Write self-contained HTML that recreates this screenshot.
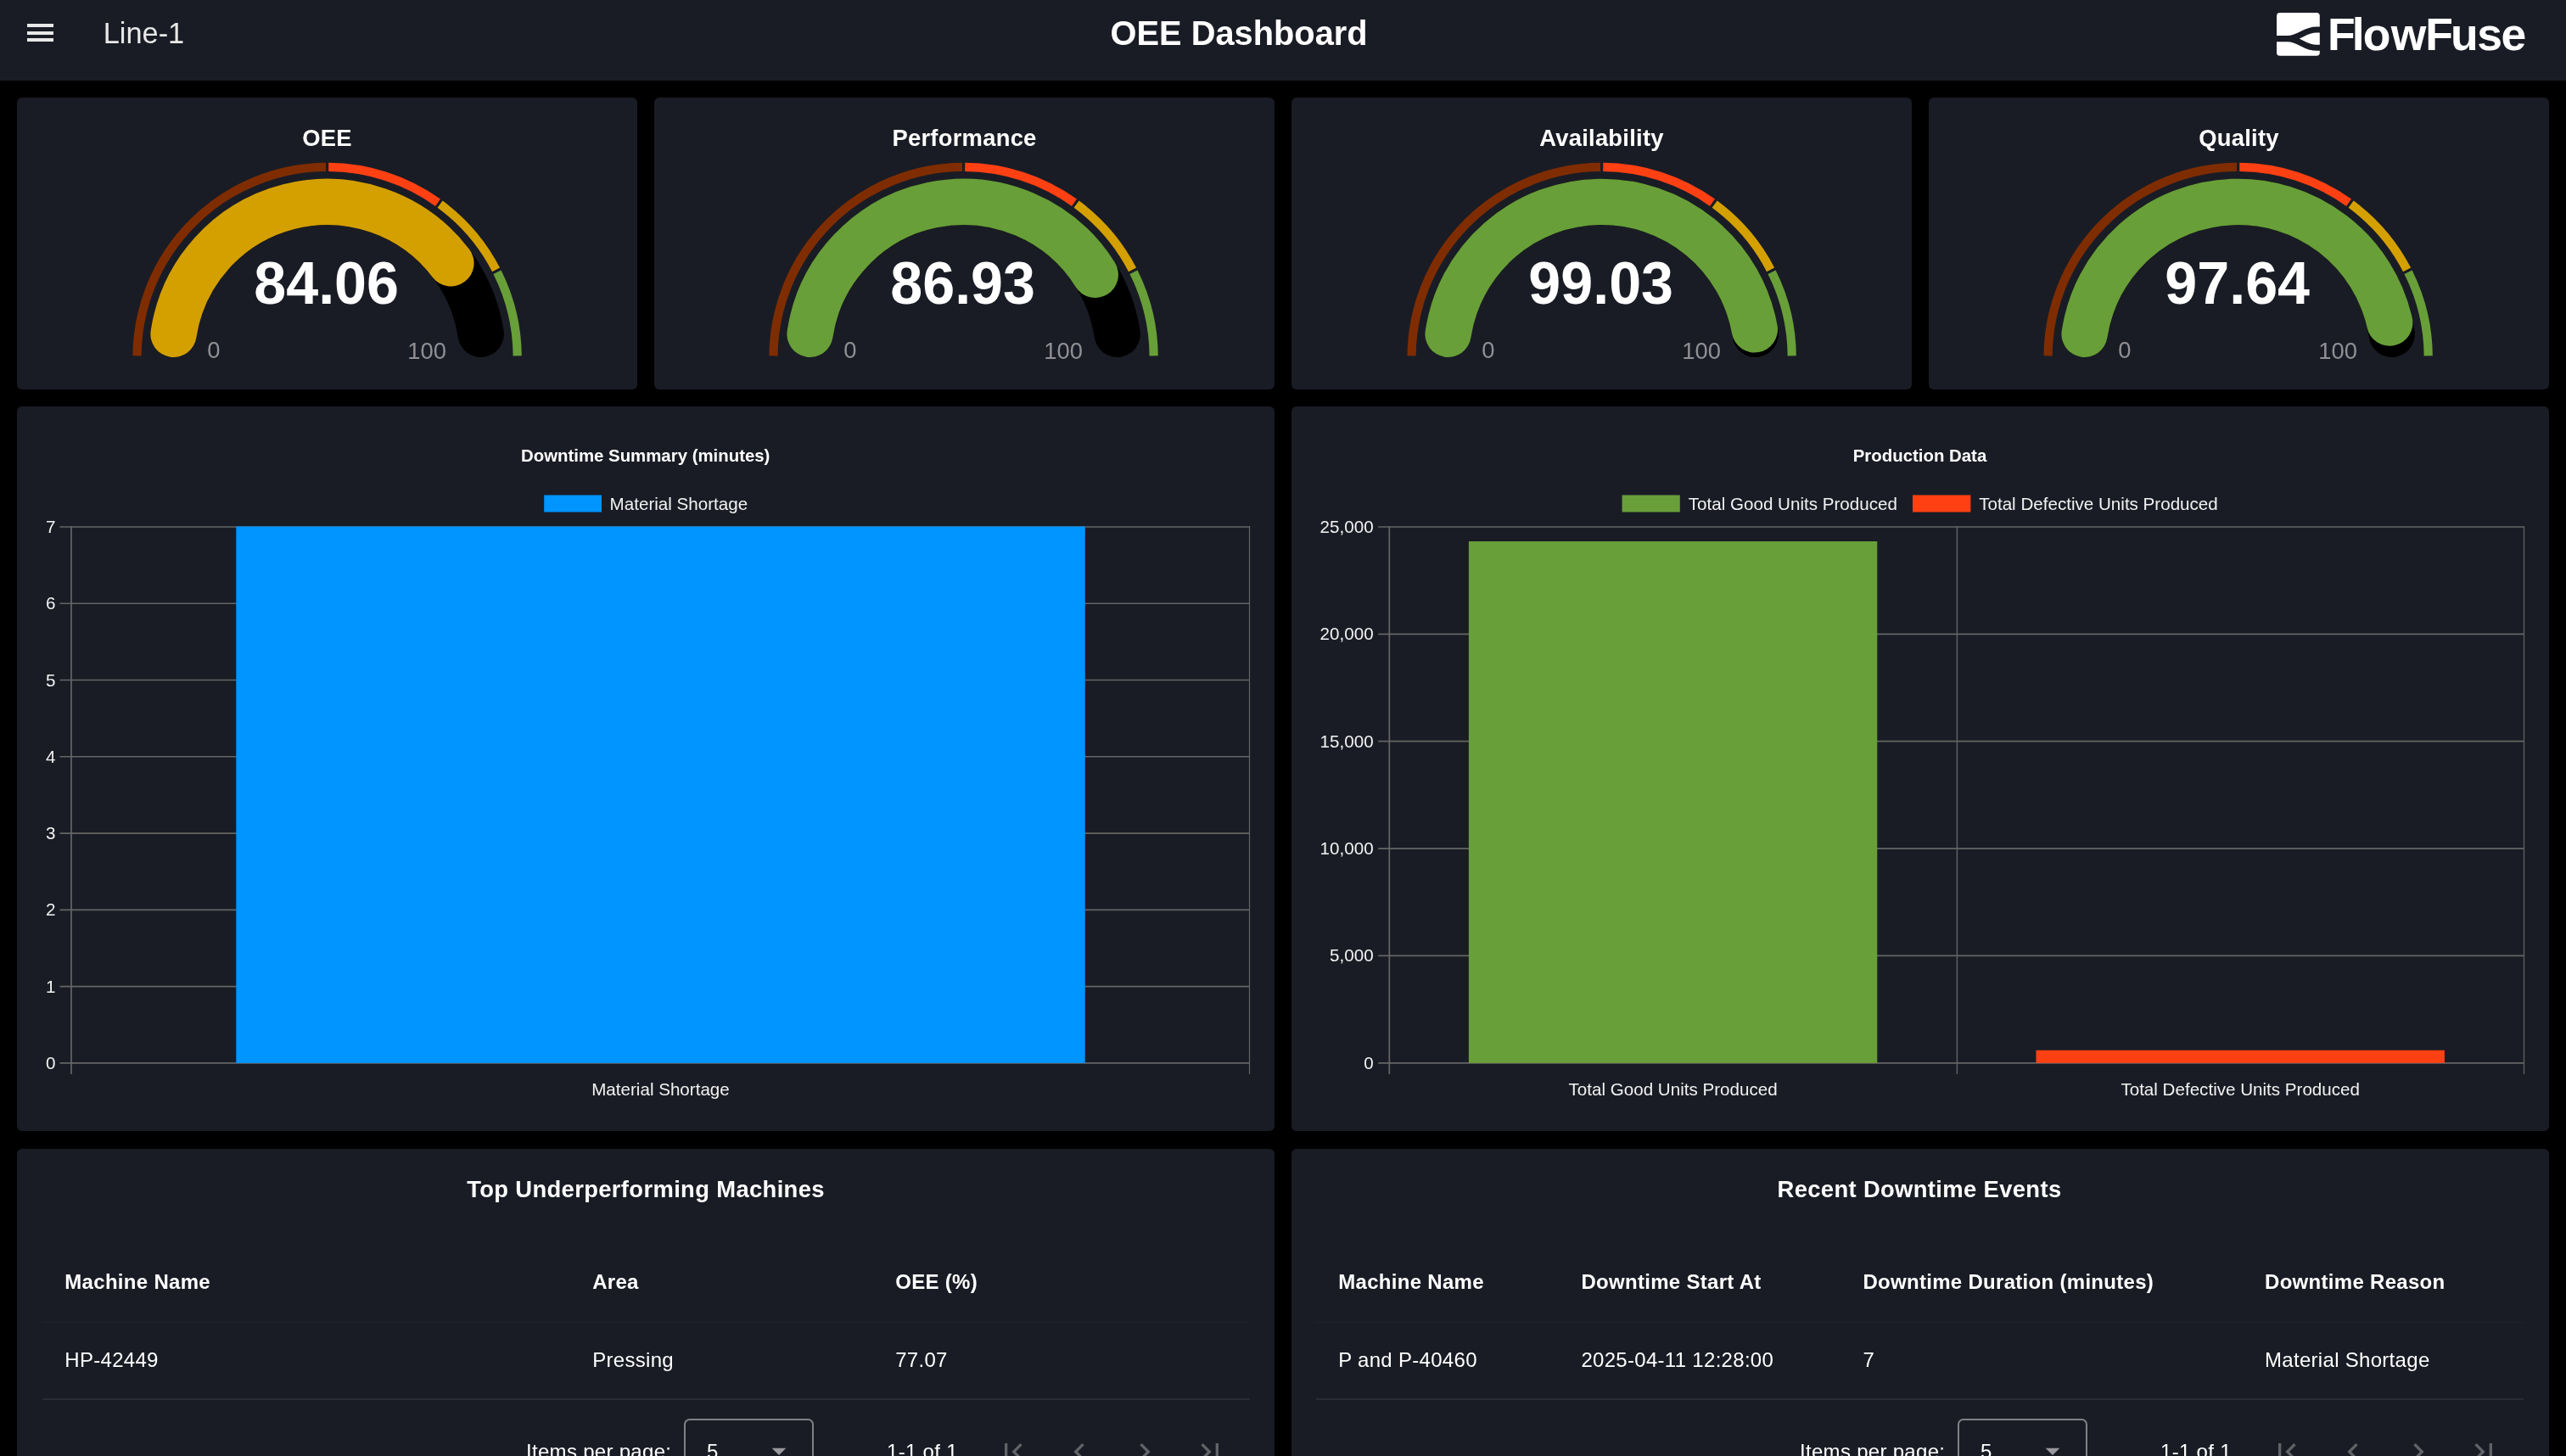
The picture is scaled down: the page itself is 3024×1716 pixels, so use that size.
<!DOCTYPE html>
<html lang="en"><head><meta charset="utf-8"><title>OEE Dashboard</title>
<style>
*{box-sizing:border-box}
html,body{margin:0;padding:0;background:#000;}
body{width:3024px;height:1716px;overflow:hidden;position:relative;font-family:"Liberation Sans", Arial, Helvetica, sans-serif;color:#fff;}
header{position:absolute;left:0;top:0;width:3024px;height:95px;background:#1a1c25;will-change:transform}
.menu{position:absolute;left:32px;top:28px;width:31px;height:22px}
.menu i{position:absolute;left:0;width:31px;height:4px;background:#e8e8e9;display:block}
.pname{position:absolute;left:121.8px;top:20.1px;font-size:34.3px;line-height:38px;color:#e8e8e9;white-space:nowrap}
.ptitle{position:absolute;left:1308.6px;top:16.0px;margin:0;font-size:39.8px;line-height:46px;font-weight:bold;color:#fff;white-space:nowrap;transform:scaleY(1.04);transform-origin:0 36.8px}
.logo{position:absolute;left:2682.7px;top:14.8px}
.card{position:absolute;background:#1a1c25;border-radius:6px;overflow:hidden;will-change:transform}
.card svg{display:block}
text{font-family:"Liberation Sans", Arial, Helvetica, sans-serif;fill:#fff}
.gt{font-size:27.4px;font-weight:bold;letter-spacing:0.25px}
.gv{font-size:68.2px;font-weight:bold}
.gl{font-size:27.4px;fill:#909095}
.ct{font-size:20.6px;fill:#f2f2f2}
.ctitle{font-size:20.4px;font-weight:bold}
.ttitle{position:absolute;left:0;top:33px;width:100%;margin:0;text-align:center;font-size:27.4px;line-height:30px;font-weight:bold;letter-spacing:0.35px;white-space:nowrap}
.hline{position:absolute;left:30px;width:1423px;height:1.7px;background:#1f212b}
.rline{position:absolute;left:30px;width:1423px;height:1.9px;background:#292c35}
.th,.td,.ft{position:absolute;font-size:24px;line-height:27px;letter-spacing:0.3px;white-space:nowrap}
.th{font-weight:bold;top:142.7px}
.td{top:235.0px}
.ft{top:343.4px}
.sel{position:absolute;width:152.7px;height:80px;border:2px solid #808186;border-radius:6.7px}
.selv{position:absolute;left:24.6px;top:23.0px;font-size:24px;line-height:27px}
.tri{position:absolute;left:89.6px;top:16.0px}
.pg{position:absolute}
.tin{position:absolute;top:0;width:100%;height:100%}
</style></head><body>
<header>
<div class="menu"><i style="top:0.1px"></i><i style="top:8.8px"></i><i style="top:17.1px"></i></div>
<div class="pname">Line-1</div>
<h1 class="ptitle">OEE Dashboard</h1>
<svg class="logo" width="300" height="60" viewBox="0 0 300 60">
<rect x="0" y="0" width="50.8" height="50.8" rx="3.8" fill="#fff"/>
<path d="M-1,30.6H13C27,30.6 32,20.0 47,20.0H53M13,30.6C27,30.6 32,41.3 47,41.3H53" fill="none" stroke="#1a1c25" stroke-width="7.1"/>
<text x="60.00 88.65 101.76 134.87 175.15 205.01 236.33 264.59" y="44.1" font-size="53.5" font-weight="bold">FlowFuse</text>
</svg>
</header>
<main>
<section class="card gauge" style="left:20px;top:115px;width:731px;height:344px">
<svg width="731" height="344" viewBox="0 0 731 344">
<path d="M141.51,304.40A224.10,224.10 0 0 1 364.00,81.91" fill="none" stroke="#7f2d00" stroke-width="10.2"/>
<path d="M367.20,81.91A224.10,224.10 0 0 1 496.02,123.76" fill="none" stroke="#ff4013" stroke-width="10.2"/>
<path d="M498.61,125.64A224.10,224.10 0 0 1 564.54,202.84" fill="none" stroke="#d4a000" stroke-width="10.2"/>
<path d="M566.00,205.69A224.10,224.10 0 0 1 589.69,304.40" fill="none" stroke="#689f38" stroke-width="10.2"/>
<path d="M184.53,278.80A183.10,183.10 0 0 1 546.67,278.80" fill="none" stroke="#000" stroke-width="54.4" stroke-linecap="round"/>
<path d="M184.53,278.80A183.10,183.10 0 0 1 511.38,195.21" fill="none" stroke="#d4a000" stroke-width="54.4" stroke-linecap="round"/>
<text x="365.5" y="57.4" text-anchor="middle" class="gt">OEE</text>
<text transform="translate(364.60,243.3) scale(1,1.04)" x="0" y="0" text-anchor="middle" class="gv">84.06</text>
<text x="224.20" y="307.3" class="gl">0</text>
<text x="505.90" y="307.5" text-anchor="end" class="gl">100</text>
</svg></section>
<section class="card gauge" style="left:771px;top:115px;width:731px;height:344px">
<svg width="731" height="344" viewBox="0 0 731 344">
<path d="M140.51,304.40A224.10,224.10 0 0 1 363.00,81.91" fill="none" stroke="#7f2d00" stroke-width="10.2"/>
<path d="M366.20,81.91A224.10,224.10 0 0 1 495.02,123.76" fill="none" stroke="#ff4013" stroke-width="10.2"/>
<path d="M497.61,125.64A224.10,224.10 0 0 1 563.54,202.84" fill="none" stroke="#d4a000" stroke-width="10.2"/>
<path d="M565.00,205.69A224.10,224.10 0 0 1 588.69,304.40" fill="none" stroke="#689f38" stroke-width="10.2"/>
<path d="M183.53,278.80A183.10,183.10 0 0 1 545.67,278.80" fill="none" stroke="#000" stroke-width="54.4" stroke-linecap="round"/>
<path d="M183.53,278.80A183.10,183.10 0 0 1 519.76,208.78" fill="none" stroke="#689f38" stroke-width="54.4" stroke-linecap="round"/>
<text x="365.5" y="57.4" text-anchor="middle" class="gt">Performance</text>
<text transform="translate(363.60,243.3) scale(1,1.04)" x="0" y="0" text-anchor="middle" class="gv">86.93</text>
<text x="223.20" y="307.3" class="gl">0</text>
<text x="504.90" y="307.5" text-anchor="end" class="gl">100</text>
</svg></section>
<section class="card gauge" style="left:1522px;top:115px;width:731px;height:344px">
<svg width="731" height="344" viewBox="0 0 731 344">
<path d="M141.56,304.40A224.10,224.10 0 0 1 364.05,81.91" fill="none" stroke="#7f2d00" stroke-width="10.2"/>
<path d="M367.25,81.91A224.10,224.10 0 0 1 496.07,123.76" fill="none" stroke="#ff4013" stroke-width="10.2"/>
<path d="M498.66,125.64A224.10,224.10 0 0 1 564.59,202.84" fill="none" stroke="#d4a000" stroke-width="10.2"/>
<path d="M566.05,205.69A224.10,224.10 0 0 1 589.74,304.40" fill="none" stroke="#689f38" stroke-width="10.2"/>
<path d="M184.58,278.80A183.10,183.10 0 0 1 546.72,278.80" fill="none" stroke="#000" stroke-width="54.4" stroke-linecap="round"/>
<path d="M184.58,278.80A183.10,183.10 0 0 1 545.81,273.30" fill="none" stroke="#689f38" stroke-width="54.4" stroke-linecap="round"/>
<text x="365.5" y="57.4" text-anchor="middle" class="gt">Availability</text>
<text transform="translate(364.65,243.3) scale(1,1.04)" x="0" y="0" text-anchor="middle" class="gv">99.03</text>
<text x="224.25" y="307.3" class="gl">0</text>
<text x="505.95" y="307.5" text-anchor="end" class="gl">100</text>
</svg></section>
<section class="card gauge" style="left:2273px;top:115px;width:731px;height:344px">
<svg width="731" height="344" viewBox="0 0 731 344">
<path d="M140.56,304.40A224.10,224.10 0 0 1 363.05,81.91" fill="none" stroke="#7f2d00" stroke-width="10.2"/>
<path d="M366.25,81.91A224.10,224.10 0 0 1 495.07,123.76" fill="none" stroke="#ff4013" stroke-width="10.2"/>
<path d="M497.66,125.64A224.10,224.10 0 0 1 563.59,202.84" fill="none" stroke="#d4a000" stroke-width="10.2"/>
<path d="M565.05,205.69A224.10,224.10 0 0 1 588.74,304.40" fill="none" stroke="#689f38" stroke-width="10.2"/>
<path d="M183.58,278.80A183.10,183.10 0 0 1 545.72,278.80" fill="none" stroke="#000" stroke-width="54.4" stroke-linecap="round"/>
<path d="M183.58,278.80A183.10,183.10 0 0 1 543.21,265.46" fill="none" stroke="#689f38" stroke-width="54.4" stroke-linecap="round"/>
<text x="365.5" y="57.4" text-anchor="middle" class="gt">Quality</text>
<text transform="translate(363.65,243.3) scale(1,1.04)" x="0" y="0" text-anchor="middle" class="gv">97.64</text>
<text x="223.25" y="307.3" class="gl">0</text>
<text x="504.95" y="307.5" text-anchor="end" class="gl">100</text>
</svg></section>
<section class="card chart" style="left:20px;top:479px;width:1482px;height:854px">
<svg width="1482" height="854" viewBox="20 479 1482 854">
<line x1="70.5" x2="1472.5" y1="621.00" y2="621.00" stroke="#656565" stroke-width="1.7"/>
<text x="65.5" y="628.00" text-anchor="end" class="ct">7</text>
<line x1="70.5" x2="1472.5" y1="711.26" y2="711.26" stroke="#656565" stroke-width="1.7"/>
<text x="65.5" y="718.26" text-anchor="end" class="ct">6</text>
<line x1="70.5" x2="1472.5" y1="801.51" y2="801.51" stroke="#656565" stroke-width="1.7"/>
<text x="65.5" y="808.51" text-anchor="end" class="ct">5</text>
<line x1="70.5" x2="1472.5" y1="891.77" y2="891.77" stroke="#656565" stroke-width="1.7"/>
<text x="65.5" y="898.77" text-anchor="end" class="ct">4</text>
<line x1="70.5" x2="1472.5" y1="982.03" y2="982.03" stroke="#656565" stroke-width="1.7"/>
<text x="65.5" y="989.03" text-anchor="end" class="ct">3</text>
<line x1="70.5" x2="1472.5" y1="1072.29" y2="1072.29" stroke="#656565" stroke-width="1.7"/>
<text x="65.5" y="1079.29" text-anchor="end" class="ct">2</text>
<line x1="70.5" x2="1472.5" y1="1162.54" y2="1162.54" stroke="#656565" stroke-width="1.7"/>
<text x="65.5" y="1169.54" text-anchor="end" class="ct">1</text>
<line x1="70.5" x2="1472.5" y1="1252.80" y2="1252.80" stroke="#656565" stroke-width="1.7"/>
<text x="65.5" y="1259.80" text-anchor="end" class="ct">0</text>
<line x1="84.0" x2="84.0" y1="620.1" y2="1266" stroke="#656565" stroke-width="1.7"/>
<line x1="1472.5" x2="1472.5" y1="620.1" y2="1266" stroke="#656565" stroke-width="1.2"/>
<rect x="278.3" y="620.4" width="1000.4" height="632.40" fill="#0095ff"/>
<text x="760.7" y="544.3" text-anchor="middle" class="ctitle">Downtime Summary (minutes)</text>
<rect x="641.2" y="583.5" width="67.8" height="20" fill="#0095ff"/>
<text x="718.6" y="600.8" class="ct">Material Shortage</text>
<text x="778.5" y="1291.1" text-anchor="middle" class="ct">Material Shortage</text>
</svg></section>
<section class="card chart" style="left:1522px;top:479px;width:1482px;height:854px">
<svg width="1482" height="854" viewBox="1522 479 1482 854">
<line x1="1624.3" x2="2974.5" y1="621.00" y2="621.00" stroke="#656565" stroke-width="1.7"/>
<text x="1618.6" y="628.00" text-anchor="end" class="ct">25,000</text>
<line x1="1624.3" x2="2974.5" y1="747.36" y2="747.36" stroke="#656565" stroke-width="1.7"/>
<text x="1618.6" y="754.36" text-anchor="end" class="ct">20,000</text>
<line x1="1624.3" x2="2974.5" y1="873.72" y2="873.72" stroke="#656565" stroke-width="1.7"/>
<text x="1618.6" y="880.72" text-anchor="end" class="ct">15,000</text>
<line x1="1624.3" x2="2974.5" y1="1000.08" y2="1000.08" stroke="#656565" stroke-width="1.7"/>
<text x="1618.6" y="1007.08" text-anchor="end" class="ct">10,000</text>
<line x1="1624.3" x2="2974.5" y1="1126.44" y2="1126.44" stroke="#656565" stroke-width="1.7"/>
<text x="1618.6" y="1133.44" text-anchor="end" class="ct">5,000</text>
<line x1="1624.3" x2="2974.5" y1="1252.80" y2="1252.80" stroke="#656565" stroke-width="1.7"/>
<text x="1618.6" y="1259.80" text-anchor="end" class="ct">0</text>
<line x1="1637.3" x2="1637.3" y1="620.1" y2="1266" stroke="#656565" stroke-width="1.7"/>
<line x1="2306.40" x2="2306.40" y1="620.1" y2="1266" stroke="#656565" stroke-width="1.4"/>
<line x1="2974.5" x2="2974.5" y1="620.1" y2="1266" stroke="#656565" stroke-width="1.2"/>
<rect x="1730.90" y="638" width="481.39" height="614.80" fill="#689f38"/>
<rect x="2399.50" y="1237.8" width="481.39" height="15.00" fill="#ff4013"/>
<text x="2262.5" y="544.3" text-anchor="middle" class="ctitle">Production Data</text>
<rect x="1911.6" y="583.5" width="68.2" height="20" fill="#689f38"/>
<text x="1989.8" y="600.8" class="ct">Total Good Units Produced</text>
<rect x="2254" y="583.5" width="68.4" height="20" fill="#ff4013"/>
<text x="2332.2" y="600.8" class="ct">Total Defective Units Produced</text>
<text x="1971.60" y="1291.1" text-anchor="middle" class="ct">Total Good Units Produced</text>
<text x="2640.20" y="1291.1" text-anchor="middle" class="ct">Total Defective Units Produced</text>
</svg></section>
<section class="card tbl" style="left:20px;top:1354px;width:1482px;height:400px">
<div class="tin" style="left:0px">
<h3 class="ttitle">Top Underperforming Machines</h3>
<div class="hline" style="top:203.8px"></div>
<div class="rline" style="top:293.9px"></div>
<div class="th" style="left:56.3px">Machine Name</div>
<div class="td" style="left:56.3px">HP-42449</div>
<div class="th" style="left:678.2px">Area</div>
<div class="td" style="left:678.2px">Pressing</div>
<div class="th" style="left:1035.2px">OEE (%)</div>
<div class="td" style="left:1035.2px">77.07</div>
<div class="ft ipp" style="left:600px">Items per page:</div>
<div class="sel" style="left:786.3px;top:318.4px"><span class="selv">5</span><svg class="tri" width="40" height="40" viewBox="0 0 24 24"><path d="M7,10L12,15L17,10H7Z" fill="#9a9a9e"/></svg></div>
<div class="ft rng" style="left:1025px">1-1 of 1</div>
<svg class="pg" style="left:1154px;top:336.7px" width="40" height="40" viewBox="0 0 24 24"><path d="M18.41,16.59L13.82,12L18.41,7.41L17,6L11,12L17,18L18.41,16.59M6,6H8V18H6V6Z" fill="#626368"/></svg>
<svg class="pg" style="left:1231.8px;top:336.7px" width="40" height="40" viewBox="0 0 24 24"><path d="M15.41,16.58L10.83,12L15.41,7.41L14,6L8,12L14,18L15.41,16.58Z" fill="#626368"/></svg>
<svg class="pg" style="left:1309.2px;top:336.7px" width="40" height="40" viewBox="0 0 24 24"><path d="M8.59,16.58L13.17,12L8.59,7.41L10,6L16,12L10,18L8.59,16.58Z" fill="#626368"/></svg>
<svg class="pg" style="left:1386.3px;top:336.7px" width="40" height="40" viewBox="0 0 24 24"><path d="M5.59,7.41L10.18,12L5.59,16.59L7,18L13,12L7,6L5.59,7.41M16,6H18V18H16V6Z" fill="#626368"/></svg>
</div></section>
<section class="card tbl" style="left:1522px;top:1354px;width:1482px;height:400px">
<div class="tin" style="left:-1px">
<h3 class="ttitle">Recent Downtime Events</h3>
<div class="hline" style="top:203.8px"></div>
<div class="rline" style="top:293.9px"></div>
<div class="th" style="left:56.2px">Machine Name</div>
<div class="td" style="left:56.2px">P and P-40460</div>
<div class="th" style="left:342.4px">Downtime Start At</div>
<div class="td" style="left:342.4px">2025-04-11 12:28:00</div>
<div class="th" style="left:674.4px">Downtime Duration (minutes)</div>
<div class="td" style="left:674.4px">7</div>
<div class="th" style="left:1148.0px">Downtime Reason</div>
<div class="td" style="left:1148.0px">Material Shortage</div>
<div class="ft ipp" style="left:600px">Items per page:</div>
<div class="sel" style="left:786.3px;top:318.4px"><span class="selv">5</span><svg class="tri" width="40" height="40" viewBox="0 0 24 24"><path d="M7,10L12,15L17,10H7Z" fill="#9a9a9e"/></svg></div>
<div class="ft rng" style="left:1025px">1-1 of 1</div>
<svg class="pg" style="left:1154px;top:336.7px" width="40" height="40" viewBox="0 0 24 24"><path d="M18.41,16.59L13.82,12L18.41,7.41L17,6L11,12L17,18L18.41,16.59M6,6H8V18H6V6Z" fill="#626368"/></svg>
<svg class="pg" style="left:1231.8px;top:336.7px" width="40" height="40" viewBox="0 0 24 24"><path d="M15.41,16.58L10.83,12L15.41,7.41L14,6L8,12L14,18L15.41,16.58Z" fill="#626368"/></svg>
<svg class="pg" style="left:1309.2px;top:336.7px" width="40" height="40" viewBox="0 0 24 24"><path d="M8.59,16.58L13.17,12L8.59,7.41L10,6L16,12L10,18L8.59,16.58Z" fill="#626368"/></svg>
<svg class="pg" style="left:1386.3px;top:336.7px" width="40" height="40" viewBox="0 0 24 24"><path d="M5.59,7.41L10.18,12L5.59,16.59L7,18L13,12L7,6L5.59,7.41M16,6H18V18H16V6Z" fill="#626368"/></svg>
</div></section>
</main></body></html>
